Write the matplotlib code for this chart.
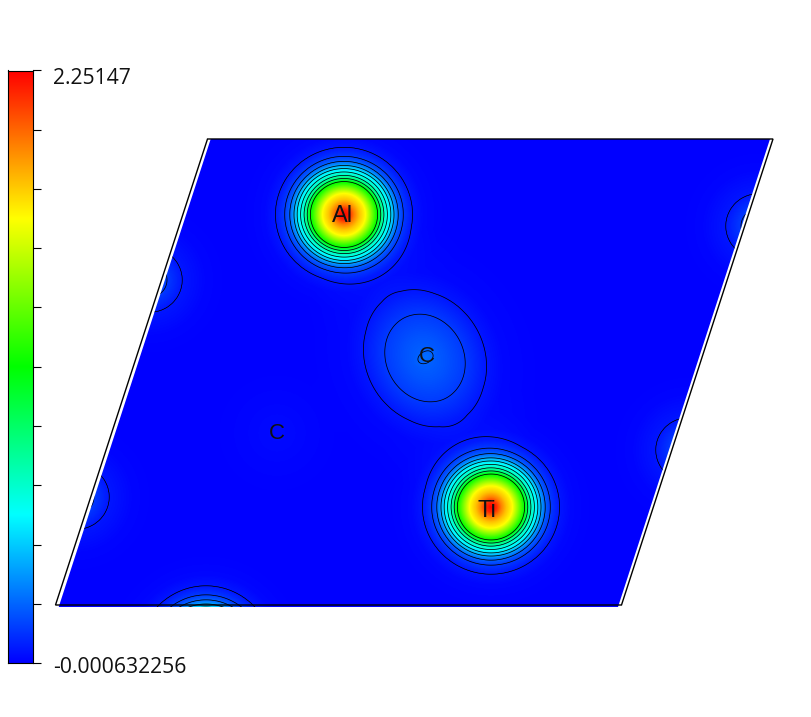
import numpy as np
import matplotlib
matplotlib.use("Agg")
import matplotlib.pyplot as plt
from matplotlib.colors import LinearSegmentedColormap
from matplotlib.patches import Polygon

W, H = 812, 717
VMIN, VMAX = -0.000632256, 2.25147

# radial density profiles (px from nucleus, density)
ATOM_R = [0, 5, 10, 15, 21, 27, 33, 36, 39, 42.5, 46, 49, 53, 58, 67, 78, 95, 120]
ATOM_D = [2.25, 2.17, 1.97, 1.82, 1.69, 1.40, 1.10, 0.90, 0.72, 0.60, 0.50, 0.37, 0.22, 0.13, 0.05, 0.015, 0.004, 0.0]
CARBON_R = [0, 8, 20, 40, 61, 78, 120]
CARBON_D = [0.215, 0.21, 0.185, 0.13, 0.05, 0.015, 0.0]
CORE_R = [0, 6, 14]
CORE_D = [0.03, 0.015, 0.0]
EDGE_R = [0, 17, 32, 55, 80]
EDGE_D = [0.22, 0.13, 0.05, 0.012, 0.0]
GLOW_R = [0, 30, 70]
GLOW_D = [0.025, 0.012, 0.0]

# sites: centre (px), stretch along/across the axis, axis angle (deg)
AL = (344, 214.5, 1.02, 1.0, 0)
TI = (491, 507, 1.02, 1.0, 0)
BOTTOM = (206, 653, 1.0, 1.0, 0)
CARBON = (425, 358, 1.13, 0.97, 62)
CORE = (426, 357, 1.0, 0.6, -30)
GLOW = (277, 433, 1.0, 1.0, 0)
EDGES = [(150, 280, 1, 1, 0), (77, 497, 1, 1, 0), (758, 226, 1, 1, 0), (688, 450, 1, 1, 0)]

LEVELS = [0.05, 0.13, 0.22, 0.37, 0.50, 0.60, 0.72, 0.90, 1.10]
CBAR_TICKS = np.linspace(VMIN, VMAX, 11)

FILL_CORNERS = [(58.7, 607), (618, 607), (770, 139), (210.7, 139)]
FRAME_CORNERS = [(55.5, 605), (621.5, 605), (773, 139), (207.5, 139)]

ATOM_LABELS = [("Al", 343, 216.5), ("Ti", 487, 511)]
CARBON_LABELS = [("C", 427, 357), ("C", 277, 433.5)]

cmap = LinearSegmentedColormap.from_list(
    "rainbow5", ["#0000ff", "#00ffff", "#00ff00", "#ffff00", "#ff0000"], N=512)

xx, yy = np.meshgrid(np.arange(W) + 0.5, np.arange(H) + 0.5)


def site_field(site, radii, dens):
    x0, y0, sa, sb, ang = site
    t = np.deg2rad(ang)
    u = (xx - x0) * np.cos(t) + (yy - y0) * np.sin(t)
    v = -(xx - x0) * np.sin(t) + (yy - y0) * np.cos(t)
    return np.interp(np.hypot(u / sa, v / sb), radii, dens)


field = site_field(AL, ATOM_R, ATOM_D) + site_field(TI, ATOM_R, ATOM_D)
field += site_field(BOTTOM, ATOM_R, ATOM_D)
field += site_field(CARBON, CARBON_R, CARBON_D) + site_field(CORE, CORE_R, CORE_D)
field += site_field(GLOW, GLOW_R, GLOW_D)
for e in EDGES:
    field += site_field(e, EDGE_R, EDGE_D)
field = np.clip(field, VMIN, VMAX)

fig = plt.figure(figsize=(W / 100, H / 100), dpi=100, facecolor="white")
ax = fig.add_axes([0, 0, 1, 1])
ax.set_xlim(0, W)
ax.set_ylim(H, 0)
ax.axis("off")

clip = Polygon(FILL_CORNERS, closed=True, transform=ax.transData, fc="none", ec="none")
ax.add_patch(clip)
im = ax.imshow(field, cmap=cmap, vmin=VMIN, vmax=VMAX, extent=(0, W, H, 0),
               interpolation="bilinear", aspect="auto")
im.set_clip_path(clip)
cs = ax.contour(xx, yy, field, levels=LEVELS, colors="black", linewidths=0.55)
cs.set_clip_path(clip)

ax.add_patch(Polygon(FRAME_CORNERS, closed=True, fc="none", ec="black", lw=1.0))

for name, x, y in ATOM_LABELS:
    ax.text(x, y, name, fontsize=17, family="Liberation Sans", color="#111111",
            ha="center", va="center")
for name, x, y in CARBON_LABELS:
    ax.text(x, y, name, fontsize=16, family="Liberation Sans", color="#111111",
            ha="center", va="center")

ax.text(53, 79, "2.25147", fontsize=15.2, family="Open Sans", color="#111111", va="center")
ax.text(53, 667.5, "-0.000632256", fontsize=15.2, family="Open Sans", color="#111111", va="center")

# colour bar
cax = fig.add_axes([8.5 / W, 1 - 663 / H, 25 / W, (663 - 70.5) / H])
cax.imshow(np.linspace(VMIN, VMAX, 512)[:, None], cmap=cmap, vmin=VMIN, vmax=VMAX,
           origin="lower", aspect="auto", extent=(0, 1, VMIN, VMAX))
cax.set_xticks([])
cax.yaxis.tick_right()
cax.set_yticks(CBAR_TICKS)
cax.set_yticklabels([])
cax.tick_params(axis="y", length=5.8, width=0.8, color="black")
for s in cax.spines.values():
    s.set_linewidth(0.8)

fig.savefig("out.png", dpi=100)
